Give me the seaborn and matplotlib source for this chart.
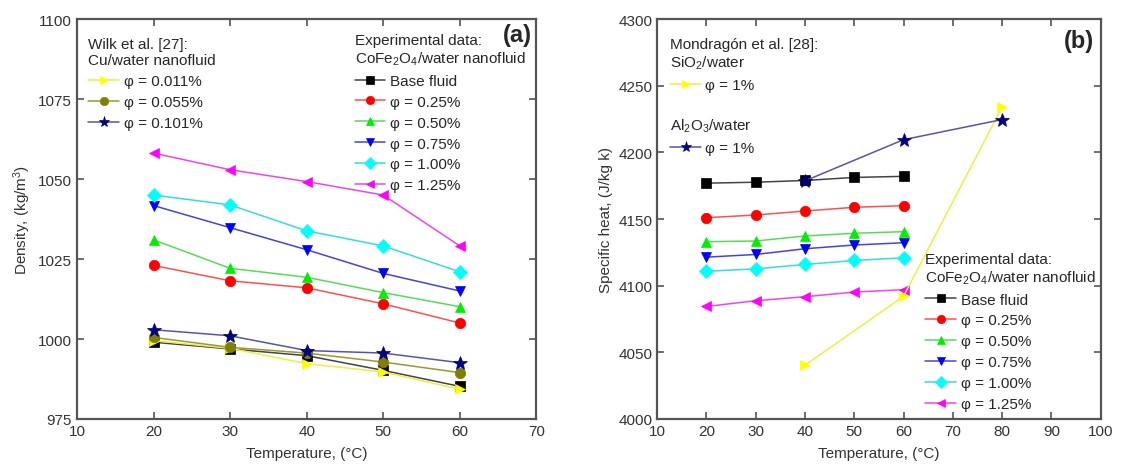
import seaborn as sns
import pandas as pd
import matplotlib.pyplot as plt

sns.set_style("ticks")
plt.rcParams['font.family'] = ['Liberation Sans', 'DejaVu Sans']
plt.rcParams['mathtext.fontset'] = 'custom'
plt.rcParams['mathtext.rm'] = 'Liberation Sans'
plt.rcParams['mathtext.it'] = 'Liberation Sans'

# ---- data (a): density ----
temps = [20, 30, 40, 50, 60]
dens_base = [999.0, 996.9, 994.8, 990.2, 985.2]
dens_025 = [1023.0, 1018.2, 1016.0, 1011.0, 1005.0]
dens_050 = [1031.0, 1022.1, 1019.3, 1014.5, 1010.1]
dens_075 = [1041.7, 1034.8, 1027.9, 1020.5, 1015.0]
dens_100 = [1045.0, 1041.9, 1033.8, 1029.1, 1021.0]
dens_125 = [1058.1, 1052.9, 1049.2, 1045.0, 1029.1]
wilk_0011 = [999.5, 997.1, 992.3, 989.7, 984.3]
wilk_0055 = [1000.5, 997.4, 995.6, 992.8, 989.5]
wilk_0101 = [1002.9, 1001.0, 996.4, 995.6, 992.6]

# ---- data (b): specific heat ----
cp_base = [4176.9, 4177.6, 4178.9, 4181.2, 4182.0]
cp_025 = [4151.0, 4153.0, 4156.0, 4158.8, 4160.0]
cp_050 = [4133.0, 4133.5, 4137.3, 4139.3, 4140.5]
cp_075 = [4121.4, 4123.4, 4127.7, 4130.5, 4132.2]
cp_100 = [4110.8, 4112.6, 4115.9, 4118.9, 4120.9]
cp_125 = [4084.4, 4088.7, 4091.7, 4095.2, 4097.0]
mond_temps = [40, 60, 80]
mond_sio2 = [4040.3, 4092.0, 4233.9]
mond_al2o3 = [4178.6, 4209.5, 4224.6]

phi = "\u03c6"
exp_labels = ["Base fluid", f"{phi} = 0.25%", f"{phi} = 0.50%",
              f"{phi} = 0.75%", f"{phi} = 1.00%", f"{phi} = 1.25%"]
# (marker colour, line colour, marker)
exp_styles = [("#000000", "#444444", "s"), ("#ff0000", "#ff5050", "o"),
              ("#00ee00", "#55dd55", "^"), ("#0000ff", "#4444dd", "v"),
              ("#00ffff", "#33dddd", "D"), ("#ff00ff", "#ee44ee", "<")]

FS = 11


def draw(ax, x, y, style, label, ms=7.5):
    mc, lc, mk = style
    df = pd.DataFrame({"x": x, "y": y})
    sns.lineplot(data=df, x="x", y="y", ax=ax, color=lc, lw=1.1,
                 marker=mk, markersize=ms, markerfacecolor=mc,
                 markeredgecolor=mc, markeredgewidth=0.5, label=label)
    return ax.lines[-1]


def style_axes(ax):
    for s in ax.spines.values():
        s.set_linewidth(1.6)
        s.set_color("#555555")
    ax.tick_params(direction="in", top=True, right=True, length=5,
                   width=1.2, labelsize=FS, color="#555555",
                   labelcolor="#333333")
    ax.set_xlabel("Temperature, (\u00b0C)", fontsize=FS, color="#333333",
                  labelpad=6)


fig = plt.figure(figsize=(11.22, 4.77), dpi=100)
ax1 = fig.add_axes([0.0686, 0.1195, 0.4094, 0.8385])
ax2 = fig.add_axes([0.5856, 0.1195, 0.3954, 0.8385])

# ---- panel (a) ----
exp_a = [dens_base, dens_025, dens_050, dens_075, dens_100, dens_125]
h_exp = [draw(ax1, temps, v, s, l) for v, s, l in zip(exp_a, exp_styles, exp_labels)]
wilk_styles = [("#ffff00", "#eeee44", ">"), ("#808000", "#999933", "o"),
               ("#000080", "#5555aa", "*")]
wilk_vals = [wilk_0011, wilk_0055, wilk_0101]
wilk_labels = [f"{phi} = 0.011%", f"{phi} = 0.055%", f"{phi} = 0.101%"]
h_wilk = [draw(ax1, temps, v, s, l, ms=10 if s[2] == "*" else 7.5)
          for v, s, l in zip(wilk_vals, wilk_styles, wilk_labels)]

ax1.set_xlim(10, 70)
ax1.set_ylim(975, 1100)
ax1.set_xticks([10, 20, 30, 40, 50, 60, 70])
ax1.set_yticks([975, 1000, 1025, 1050, 1075, 1100])
ax1.set_ylabel("Density, (kg/m$^3$)", fontsize=FS, color="#333333")
style_axes(ax1)

leg_kw = dict(frameon=False, fontsize=FS, title_fontsize=FS, alignment="left",
              handlelength=2.0, handletextpad=0.3, labelspacing=0.45,
              borderaxespad=0.0, borderpad=0.0, markerscale=0.8)
lg1 = ax1.legend(h_wilk, wilk_labels, loc="upper left",
                 title="Wilk et al. [27]:\nCu/water nanofluid",
                 bbox_to_anchor=(0.025, 0.955), **leg_kw)
ax1.add_artist(lg1)
ax1.legend(h_exp, exp_labels, loc="upper left",
           title="Experimental data:\nCoFe$_2$O$_4$/water nanofluid",
           bbox_to_anchor=(0.605, 0.965), **leg_kw)
ax1.text(0.99, 0.99, "(a)", transform=ax1.transAxes, ha="right", va="top",
         fontsize=17, fontweight="bold")

# ---- panel (b) ----
exp_b = [cp_base, cp_025, cp_050, cp_075, cp_100, cp_125]
h_exp_b = [draw(ax2, temps, v, s, l) for v, s, l in zip(exp_b, exp_styles, exp_labels)]
h_sio2 = draw(ax2, mond_temps, mond_sio2, ("#ffff00", "#eeee44", ">"), f"{phi} = 1%")
h_al = draw(ax2, mond_temps, mond_al2o3, ("#000080", "#5555aa", "*"), f"{phi} = 1%", ms=10)

ax2.set_xlim(10, 100)
ax2.set_ylim(4000, 4300)
ax2.set_xticks(list(range(10, 101, 10)))
ax2.set_yticks(list(range(4000, 4301, 50)))
ax2.set_ylabel("Specific heat, (J/kg k)", fontsize=FS, color="#333333")
style_axes(ax2)

lg_a = ax2.legend([h_sio2], [f"{phi} = 1%"], loc="upper left",
                  title="Mondragón et al. [28]:\nSiO$_2$/water",
                  bbox_to_anchor=(0.03, 0.955), **leg_kw)
ax2.add_artist(lg_a)
lg_b = ax2.legend([h_al], [f"{phi} = 1%"], loc="upper left",
                  title="Al$_2$O$_3$/water",
                  bbox_to_anchor=(0.03, 0.755), **leg_kw)
ax2.add_artist(lg_b)
ax2.legend(h_exp_b, exp_labels, loc="lower left",
           title="Experimental data:\nCoFe$_2$O$_4$/water nanofluid",
           bbox_to_anchor=(0.605, 0.02), **leg_kw)
ax2.text(0.985, 0.975, "(b)", transform=ax2.transAxes, ha="right", va="top",
         fontsize=17, fontweight="bold")

fig.savefig("out.png", dpi=100)
